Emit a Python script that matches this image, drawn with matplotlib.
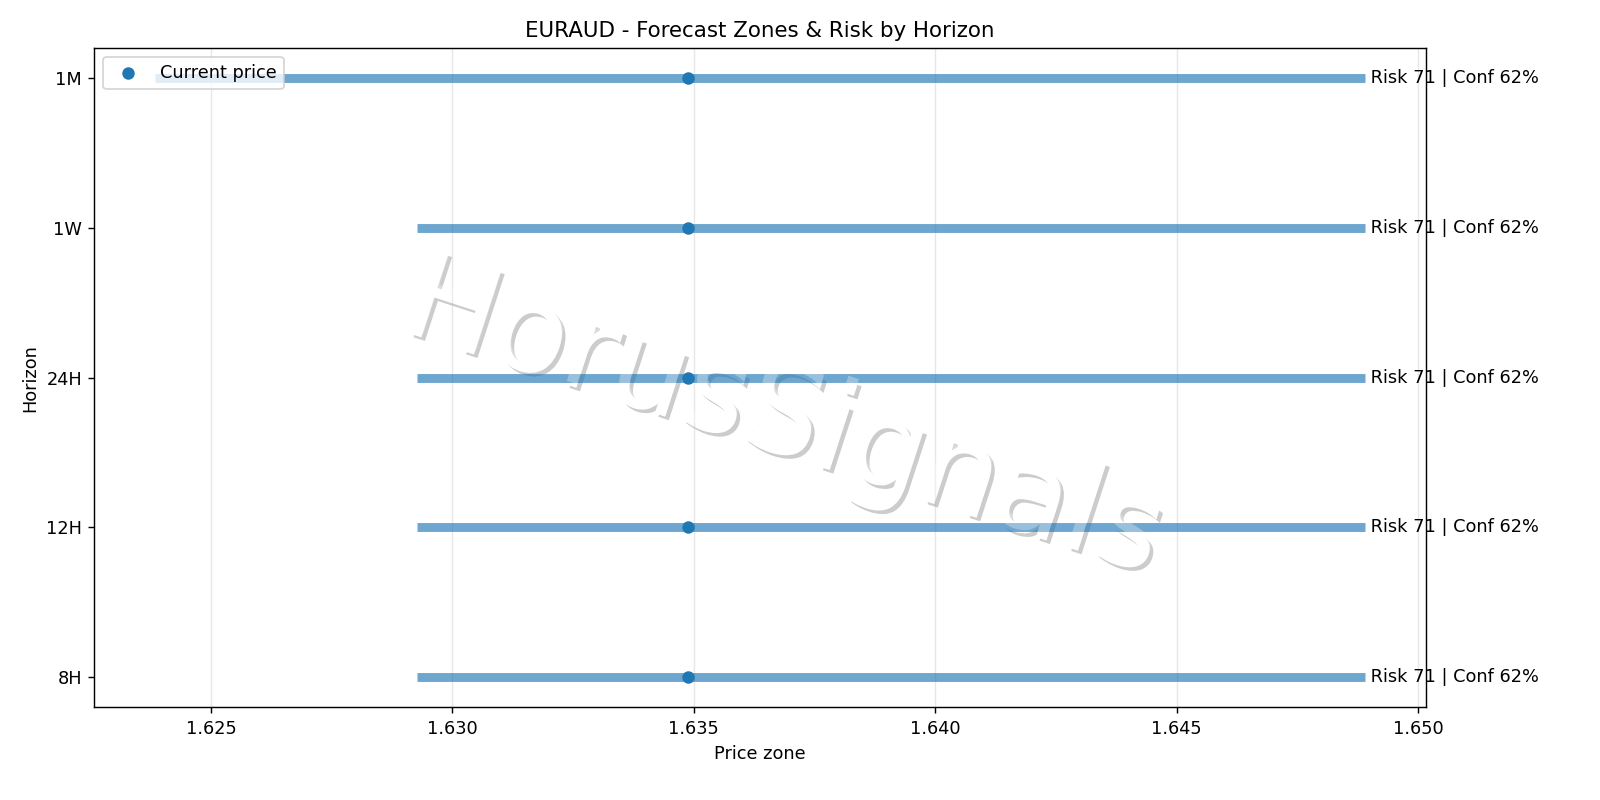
import matplotlib.pyplot as plt
import matplotlib.patheffects as pe

symbol = 'EURAUD'
horizons = ['8H', '12H', '24H', '1W', '1M']
zone_low = [1.62926, 1.62926, 1.62926, 1.62926, 1.62384]
zone_high = [1.64890, 1.64890, 1.64890, 1.64890, 1.64890]
current_price = 1.63487
risk = [71, 71, 71, 71, 71]
conf = [62, 62, 62, 62, 62]

plt.rcParams['font.family'] = 'DejaVu Sans'

fig, ax = plt.subplots(figsize=(12.5, 6.25), dpi=128)
fig.subplots_adjust(left=0.059, right=0.891, top=0.94, bottom=0.116)

y = list(range(len(horizons)))
ax.hlines(y, zone_low, zone_high, color='tab:blue', linewidth=5, alpha=0.65, zorder=2)
ax.scatter([current_price] * len(y), y, color='tab:blue', zorder=3, label='Current price')

for i in y:
    ax.text(zone_high[i], i, f" Risk {risk[i]} | Conf {conf[i]}%", va='center', ha='left', fontsize=10)

ax.set_yticks(y)
ax.set_yticklabels(horizons)
ax.set_xlabel('Price zone')
ax.set_ylabel('Horizon')
ax.set_title(f'{symbol} - Forecast Zones & Risk by Horizon')
ax.grid(axis='x', alpha=0.3)
ax.legend(loc='upper left')

# watermark: white text with drop shadow under the marks, light veil on top
wm_x, wm_y = 0.49, 0.475
wm_kw = dict(fontsize=68, color='white', ha='center', va='center', rotation=-18,
             transform=fig.transFigure)
ax.text(wm_x, wm_y, 'HorusSignals', zorder=0.5,
        path_effects=[pe.withSimplePatchShadow(offset=(2, -2), shadow_rgbFace='black', alpha=0.2)],
        **wm_kw)
ax.text(wm_x, wm_y, 'HorusSignals', zorder=4, alpha=0.3, **wm_kw)

plt.savefig('out.png', dpi=128)
